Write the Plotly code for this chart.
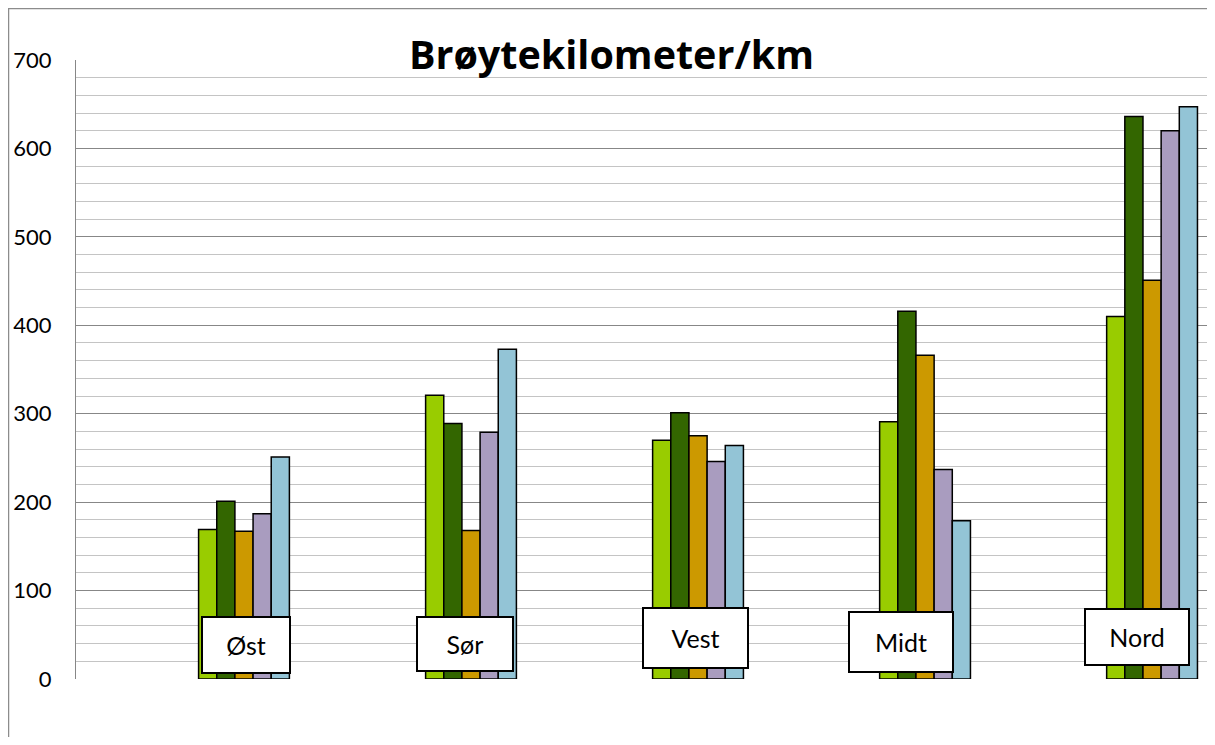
import plotly.graph_objects as go

categories = ["Øst", "Sør", "Vest", "Midt", "Nord"]
series_names = ["Serie 1", "Serie 2", "Serie 3", "Serie 4", "Serie 5"]
serie_1 = [169, 321, 270, 291, 410]
serie_2 = [201, 289, 301, 416, 636]
serie_3 = [167, 168, 275, 366, 451]
serie_4 = [187, 279, 246, 237, 620]
serie_5 = [251, 373, 264, 179, 647]
colors = ["#99CC00", "#336600", "#CC9900", "#A99CBF", "#93C4D6"]
y_ticks = [0, 100, 200, 300, 400, 500, 600, 700]

all_series = [serie_1, serie_2, serie_3, serie_4, serie_5]
x_idx = list(range(len(categories)))

fig = go.Figure()
for name, vals, col in zip(series_names, all_series, colors):
    fig.add_trace(go.Bar(
        x=x_idx, y=vals, name=name,
        marker=dict(color=col, line=dict(color="#000000", width=1.5)),
    ))

# label boxes (text boxes over bar bases): (xshift, yshift, width, height)
box_style = [(2, 34, 86, 54), (-6, 35, 94, 52), (-3, 41, 103, 58), (-24, 37, 102, 58), (-15, 42, 102, 54)]
annotations = []
for i, (cat, st) in enumerate(zip(categories, box_style)):
    xs, ys, w, h = st
    annotations.append(dict(
        x=i, y=0, xref="x", yref="y", text=cat, showarrow=False,
        xanchor="center", yanchor="middle", xshift=xs, yshift=ys,
        width=w, height=h, align="center", valign="middle",
        bgcolor="#FFFFFF", bordercolor="#000000", borderwidth=2, borderpad=0,
        font=dict(family="Lato", size=25, color="#000000"),
    ))

fig.update_layout(
    width=1199, height=729,
    margin=dict(l=68, r=0, t=52, b=58),
    paper_bgcolor="#FFFFFF", plot_bgcolor="#FFFFFF",
    barmode="group", bargap=0.6, bargroupgap=0,
    showlegend=False,
    title=dict(text="<b>Brøytekilometer/km</b>", x=0.5033, xanchor="center", xref="container",
               y=0.9351, yanchor="middle", yref="container",
               font=dict(family="Open Sans", size=39.5, color="#000000")),
    font=dict(family="Lato", size=22, color="#000000"),
    annotations=annotations,
    shapes=[dict(type="rect", xref="paper", yref="paper",
                 x0=-0.05968, x1=1.2, y0=-0.3, y1=1.0832,
                 line=dict(color="#8C8C8C", width=1.5), fillcolor="rgba(0,0,0,0)",
                 layer="below")],
)
fig.update_xaxes(range=[-0.74, 4.242], showticklabels=False, showgrid=False,
                 zeroline=False, showline=False, ticks="")
fig.update_yaxes(range=[0, 700], tickvals=y_ticks, showgrid=True,
                 gridcolor="#878787", gridwidth=1.3,
                 minor=dict(dtick=20, showgrid=True, gridcolor="#C4C4C4", gridwidth=1.3),
                 zeroline=False, showline=True, linecolor="#878787", linewidth=1.3,
                 ticks="", ticklabelstandoff=19,
                 tickfont=dict(family="Lato", size=22, color="#000000"))

fig.write_html("out.html", config={"displayModeBar": False})
